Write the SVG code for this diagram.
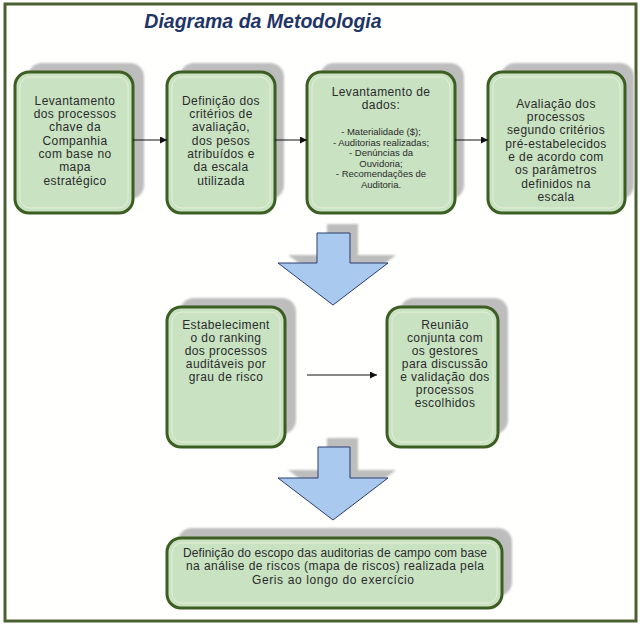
<svg xmlns="http://www.w3.org/2000/svg" width="640" height="626" viewBox="0 0 640 626">
<defs>
<style>
.shadow{fill:#bdbdbd}
.box{fill:#c8e2c2;stroke:#3d5e22;stroke-width:3}
.inner{fill:none;stroke:#e6efd8;stroke-width:1}
.t{font-family:"Liberation Sans",Arial,sans-serif;font-size:12px;fill:#2b2b2b;text-anchor:middle;letter-spacing:0.4px}
.s{font-size:9.5px;letter-spacing:0}
.conn{stroke:#111;stroke-width:1;fill:none;marker-end:url(#ah)}
.blue{fill:#a9c9ee;stroke:#2b3d6e;stroke-width:1}
</style>
<filter id="blur" x="-10%" y="-10%" width="120%" height="120%"><feGaussianBlur stdDeviation="1.2"/></filter>
<marker id="ah" viewBox="0 0 10 10" refX="10" refY="5" markerWidth="7" markerHeight="7" markerUnits="userSpaceOnUse" orient="auto"><path d="M0,0 L10,5 L0,10 z" fill="#111"/></marker>
</defs>
<rect x="0" y="0" width="640" height="626" fill="#fff"/>
<rect x="5" y="4" width="631" height="617" fill="#fffffe" stroke="#4b6030" stroke-width="3"/>
<text x="263" y="28" font-family="'Liberation Sans',Arial,sans-serif" font-size="19.5" font-weight="bold" font-style="italic" fill="#1f3566" text-anchor="middle">Diagrama da Metodologia</text>

<g id="n1">
<rect class="shadow" filter="url(#blur)" x="28" y="63" width="116" height="136" rx="14"/>
<rect class="box" x="15" y="72" width="118" height="141" rx="14"/>
<rect class="inner" x="20" y="77" width="108" height="131" rx="10"/>
<text class="t"><tspan x="75" y="105">Levantamento</tspan><tspan x="75" y="118">dos processos</tspan><tspan x="75" y="131">chave da</tspan><tspan x="75" y="145">Companhia</tspan><tspan x="75" y="158">com base no</tspan><tspan x="75" y="171">mapa</tspan><tspan x="75" y="185">estratégico</tspan></text>
</g>
<g id="n2">
<rect class="shadow" filter="url(#blur)" x="180" y="63" width="104" height="136" rx="14"/>
<rect class="box" x="167" y="72" width="108" height="141" rx="14"/>
<rect class="inner" x="172" y="77" width="98" height="131" rx="10"/>
<text class="t"><tspan x="221" y="105">Definição dos</tspan><tspan x="221" y="118">critérios de</tspan><tspan x="221" y="131">avaliação,</tspan><tspan x="221" y="145">dos pesos</tspan><tspan x="221" y="158">atribuídos e</tspan><tspan x="221" y="171">da escala</tspan><tspan x="221" y="185">utilizada</tspan></text>
</g>
<g id="n3">
<rect class="shadow" filter="url(#blur)" x="320" y="63" width="144" height="136" rx="14"/>
<rect class="box" x="307" y="72" width="148" height="141" rx="14"/>
<rect class="inner" x="312" y="77" width="138" height="131" rx="10"/>
<text class="t"><tspan x="381" y="96">Levantamento de</tspan><tspan x="381" y="109">dados:</tspan></text>
<text class="t s"><tspan x="381" y="135">- Materialidade ($);</tspan><tspan x="381" y="146">- Auditorias realizadas;</tspan><tspan x="381" y="156">- Denúncias da</tspan><tspan x="381" y="167">Ouvidoria;</tspan><tspan x="381" y="177">- Recomendações de</tspan><tspan x="381" y="188">Auditoria.</tspan></text>
</g>
<g id="n4">
<rect class="shadow" filter="url(#blur)" x="501" y="63" width="133" height="136" rx="14"/>
<rect class="box" x="488" y="72" width="137" height="141" rx="14"/>
<rect class="inner" x="493" y="77" width="127" height="131" rx="10"/>
<text class="t"><tspan x="556" y="108">Avaliação dos</tspan><tspan x="556" y="121">processos</tspan><tspan x="556" y="134">segundo critérios</tspan><tspan x="556" y="148">pré-estabelecidos</tspan><tspan x="556" y="161">e de acordo com</tspan><tspan x="556" y="174">os parâmetros</tspan><tspan x="556" y="188">definidos na</tspan><tspan x="556" y="201">escala</tspan></text>
</g>
<g id="n5">
<rect class="shadow" filter="url(#blur)" x="180" y="298" width="116" height="136" rx="14"/>
<rect class="box" x="167" y="307" width="118" height="140" rx="14"/>
<rect class="inner" x="172" y="312" width="108" height="130" rx="10"/>
<text class="t"><tspan x="226" y="329">Estabeleciment</tspan><tspan x="226" y="342">o do ranking</tspan><tspan x="226" y="355">dos processos</tspan><tspan x="226" y="368">auditáveis por</tspan><tspan x="226" y="381">grau de risco</tspan></text>
</g>
<g id="n6">
<rect class="shadow" filter="url(#blur)" x="400" y="298" width="108" height="136" rx="14"/>
<rect class="box" x="387" y="307" width="111" height="140" rx="14"/>
<rect class="inner" x="392" y="312" width="101" height="130" rx="10"/>
<text class="t"><tspan x="445" y="329">Reunião</tspan><tspan x="445" y="342">conjunta com</tspan><tspan x="445" y="355">os gestores</tspan><tspan x="445" y="368">para discussão</tspan><tspan x="445" y="381">e validação dos</tspan><tspan x="445" y="394">processos</tspan><tspan x="445" y="407">escolhidos</tspan></text>
</g>
<g id="n7">
<rect class="shadow" filter="url(#blur)" x="178" y="528" width="334" height="68" rx="14"/>
<rect class="box" x="167" y="538" width="335" height="70" rx="14"/>
<rect class="inner" x="172" y="543" width="325" height="60" rx="10"/>
<text class="t" style="letter-spacing:0"><tspan x="335" y="557" textLength="304" lengthAdjust="spacing">Definição do escopo das auditorias de campo com base</tspan><tspan x="335" y="570" textLength="298" lengthAdjust="spacing">na análise de riscos (mapa de riscos) realizada pela</tspan><tspan x="333" y="584" textLength="162" lengthAdjust="spacing">Geris ao longo do exercício</tspan></text>
</g>

<g id="bigarrow1">
<path class="shadow" filter="url(#blur)" d="M327,224 H358 V255 H396 L343,296 L288,255 H327 Z"/>
<path class="blue" d="M317,233 H350 V263 H388 L333,305 L278,263 H317 Z"/>
</g>
<g id="bigarrow2">
<path class="shadow" filter="url(#blur)" d="M327,438 H358 V470 H396 L343,511 L288,470 H327 Z"/>
<path class="blue" d="M318,447 H350 V478 H388 L333,520 L278,478 H318 Z"/>
</g>

<g id="connectors">
<line class="conn" x1="133" y1="140" x2="167" y2="140"/>
<line class="conn" x1="275" y1="140" x2="307" y2="140"/>
<line class="conn" x1="455" y1="140" x2="488" y2="140"/>
<line class="conn" x1="307" y1="375" x2="377" y2="375"/>
</g>
</svg>
